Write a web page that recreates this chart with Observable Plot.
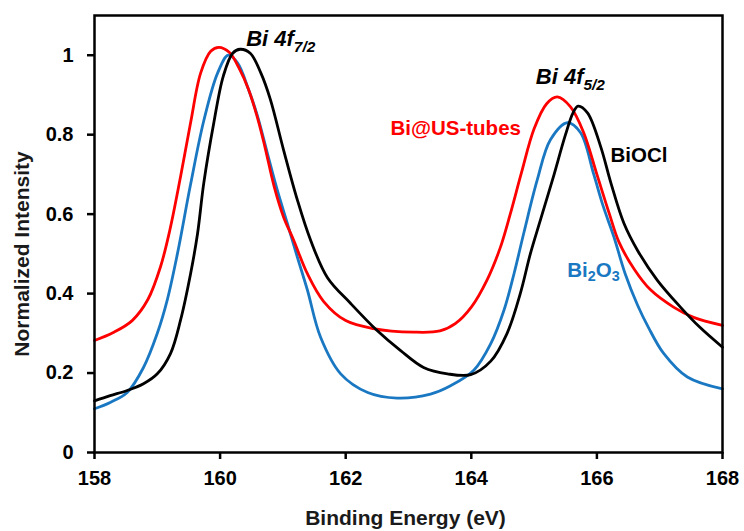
<!DOCTYPE html>
<html><head><meta charset="utf-8">
<script src="https://cdn.jsdelivr.net/npm/d3@7"></script>
<script src="https://cdn.jsdelivr.net/npm/@observablehq/plot@0.6"></script>
<style>
body{margin:0;background:#fff;}
</style></head><body><div id="chart"></div>
<script>
// Bi@US-tubes (red)
const tubesEnergy = [158.0,158.3,158.6,158.85,159.05,159.2,159.37,159.53,159.69,159.85,159.98,160.15,160.3,160.45,160.6,160.72,160.86,161.01,161.17,161.39,161.65,162.0,162.44,163.08,163.5,163.75,164.0,164.25,164.46,164.62,164.8,165.0,165.2,165.37,165.58,165.79,166.0,166.2,166.35,166.6,166.85,167.22,167.54,168.0];
const tubesIntensity = [0.282,0.302,0.332,0.385,0.467,0.56,0.694,0.83,0.955,1.01,1.02,1.007,0.968,0.915,0.84,0.765,0.67,0.593,0.535,0.45,0.38,0.332,0.312,0.303,0.306,0.325,0.366,0.434,0.515,0.60,0.705,0.815,0.878,0.895,0.87,0.805,0.70,0.60,0.53,0.46,0.41,0.366,0.34,0.32];
// BiOCl (black)
const biocEnergy = [158.0,158.25,158.52,158.78,159.0,159.21,159.37,159.53,159.64,159.74,159.9,160.05,160.2,160.32,160.48,160.65,160.8,161.01,161.23,161.44,161.71,162.08,162.5,162.87,163.24,163.62,163.99,164.31,164.57,164.78,164.94,165.1,165.3,165.5,165.62,165.7,165.85,166.06,166.22,166.43,166.65,166.96,167.33,167.64,168.0];
const biocIntensity = [0.13,0.143,0.156,0.173,0.198,0.249,0.333,0.45,0.55,0.678,0.83,0.947,1.005,1.015,1.005,0.955,0.889,0.762,0.636,0.535,0.44,0.375,0.307,0.257,0.214,0.198,0.196,0.23,0.30,0.40,0.50,0.585,0.69,0.80,0.855,0.872,0.855,0.77,0.68,0.577,0.508,0.434,0.366,0.315,0.265];
// Bi2O3 (blue)
const oxideEnergy = [158.0,158.25,158.52,158.78,159.0,159.16,159.32,159.53,159.74,159.96,160.13,160.28,160.45,160.59,160.75,160.91,161.07,161.23,161.39,161.6,161.92,162.35,162.82,163.35,163.67,164.04,164.31,164.52,164.68,164.84,165.05,165.26,165.53,165.74,165.95,166.1,166.27,166.45,166.65,166.82,167.06,167.44,168.0];
const oxideIntensity = [0.11,0.126,0.151,0.214,0.30,0.385,0.50,0.675,0.835,0.955,1.0,0.98,0.915,0.85,0.755,0.661,0.577,0.492,0.409,0.29,0.198,0.151,0.137,0.147,0.168,0.207,0.274,0.358,0.45,0.555,0.686,0.787,0.83,0.805,0.70,0.62,0.543,0.45,0.37,0.315,0.25,0.19,0.16];

const xTicks = [158,160,162,164,166,168];
const yTicks = [0,0.2,0.4,0.6,0.8,1];
const seriesNames = ["Bi2O3","Bi@US-tubes","BiOCl"];
const seriesColors = ["#1a78c2","#ff0000","#000000"];

// annotation labels (data coordinates)
const peakLabels = ["Bi 4f7/2","Bi 4f5/2"];
const peakLabelX = [160.415,165.027];
const peakLabelY = [1.0235,0.9267];
const seriesLabels = ["Bi@US-tubes","BiOCl","Bi2O3"];
const seriesLabelX = [162.713,166.217,165.527];
const seriesLabelY = [0.80,0.732,0.442];
const seriesLabelColors = ["#ff0000","#000000","#1a78c2"];

const rows = [];
const add = (name, xs, ys) => xs.forEach((e,i) => rows.push({series:name, energy:e, intensity:ys[i]}));
add("Bi2O3", oxideEnergy, oxideIntensity);
add("Bi@US-tubes", tubesEnergy, tubesIntensity);
add("BiOCl", biocEnergy, biocIntensity);

const peaks = peakLabels.map((t,i)=>({t, x:peakLabelX[i], y:peakLabelY[i]}));
const sLabels = seriesLabels.map((t,i)=>({t, x:seriesLabelX[i], y:seriesLabelY[i], c:seriesLabelColors[i]}));

const chart = Plot.plot({
  width: 744, height: 531,
  marginLeft: 94, marginRight: 22, marginTop: 15, marginBottom: 79,
  style: {fontFamily: "'Liberation Sans', Arial, sans-serif", fontWeight: "bold", fontSize: "20px", background: "white"},
  x: {domain: [158,168]},
  y: {domain: [0,1.1]},
  marks: [
    ...seriesNames.map((name, k) => Plot.lineY(rows.filter(r=>r.series===name), {x:"energy", y:"intensity", stroke: seriesColors[k], strokeWidth: 2.8, curve: "catmull-rom"})),
    Plot.frame({stroke: "black", strokeWidth: 2.5}),
    Plot.axisX({ticks: xTicks, tickSize: 7, tickPadding: 11, fontSize: 20, label: null, strokeWidth: 2.5}),
    Plot.axisY({ticks: yTicks, tickSize: 7, tickPadding: 14, fontSize: 20, tickFormat: d3.format("~g"), label: null, strokeWidth: 2.5}),
    Plot.text(peaks, {x:"x", y:"y", text:"t", textAnchor:"start", lineAnchor:"bottom", fontSize: 22, fontStyle:"italic", fontWeight:"bold", fill:"black"}),
    Plot.text(sLabels, {x:"x", y:"y", text:"t", textAnchor:"start", lineAnchor:"bottom", fontSize: 20.5, fontWeight:"bold", fill:"c"}),
    Plot.text(["Normalized Intensity"], {text: d=>d, frameAnchor:"left", textAnchor:"middle", lineAnchor:"middle", rotate:-90, dx:-72, dy:20, fontSize:21, fontWeight:"bold", fill:"#1a1a1a"}),
    Plot.text(["Binding Energy (eV)"], {text: d=>d, frameAnchor:"bottom", textAnchor:"middle", lineAnchor:"bottom", dx:-3, dy:72, fontSize:21, fontWeight:"bold", fill:"#1a1a1a"})
  ]
});

// rich text: subscripts
const ns = "http://www.w3.org/2000/svg";
const rich = {
  "Bi 4f7/2": {shift: 6, segs: [["Bi 4f",0],["7/2",1]]},
  "Bi 4f5/2": {shift: 6, segs: [["Bi 4f",0],["5/2",1]]},
  "Bi2O3": {shift: 4, segs: [["Bi",0],["2",1],["O",0],["3",1]]}
};
chart.querySelectorAll("text").forEach(t => {
  const spec = rich[t.textContent];
  if (!spec) return;
  t.textContent = "";
  let shifted = false;
  spec.segs.forEach(([s, sub]) => {
    const ts = document.createElementNS(ns, "tspan");
    ts.textContent = s;
    if (sub) {
      ts.setAttribute("font-size", "70%");
      if (!shifted) { ts.setAttribute("dy", String(spec.shift)); shifted = true; }
    } else if (shifted) {
      ts.setAttribute("dy", String(-spec.shift)); shifted = false;
    }
    t.appendChild(ts);
  });
});
document.getElementById("chart").appendChild(chart);
</script></body></html>
